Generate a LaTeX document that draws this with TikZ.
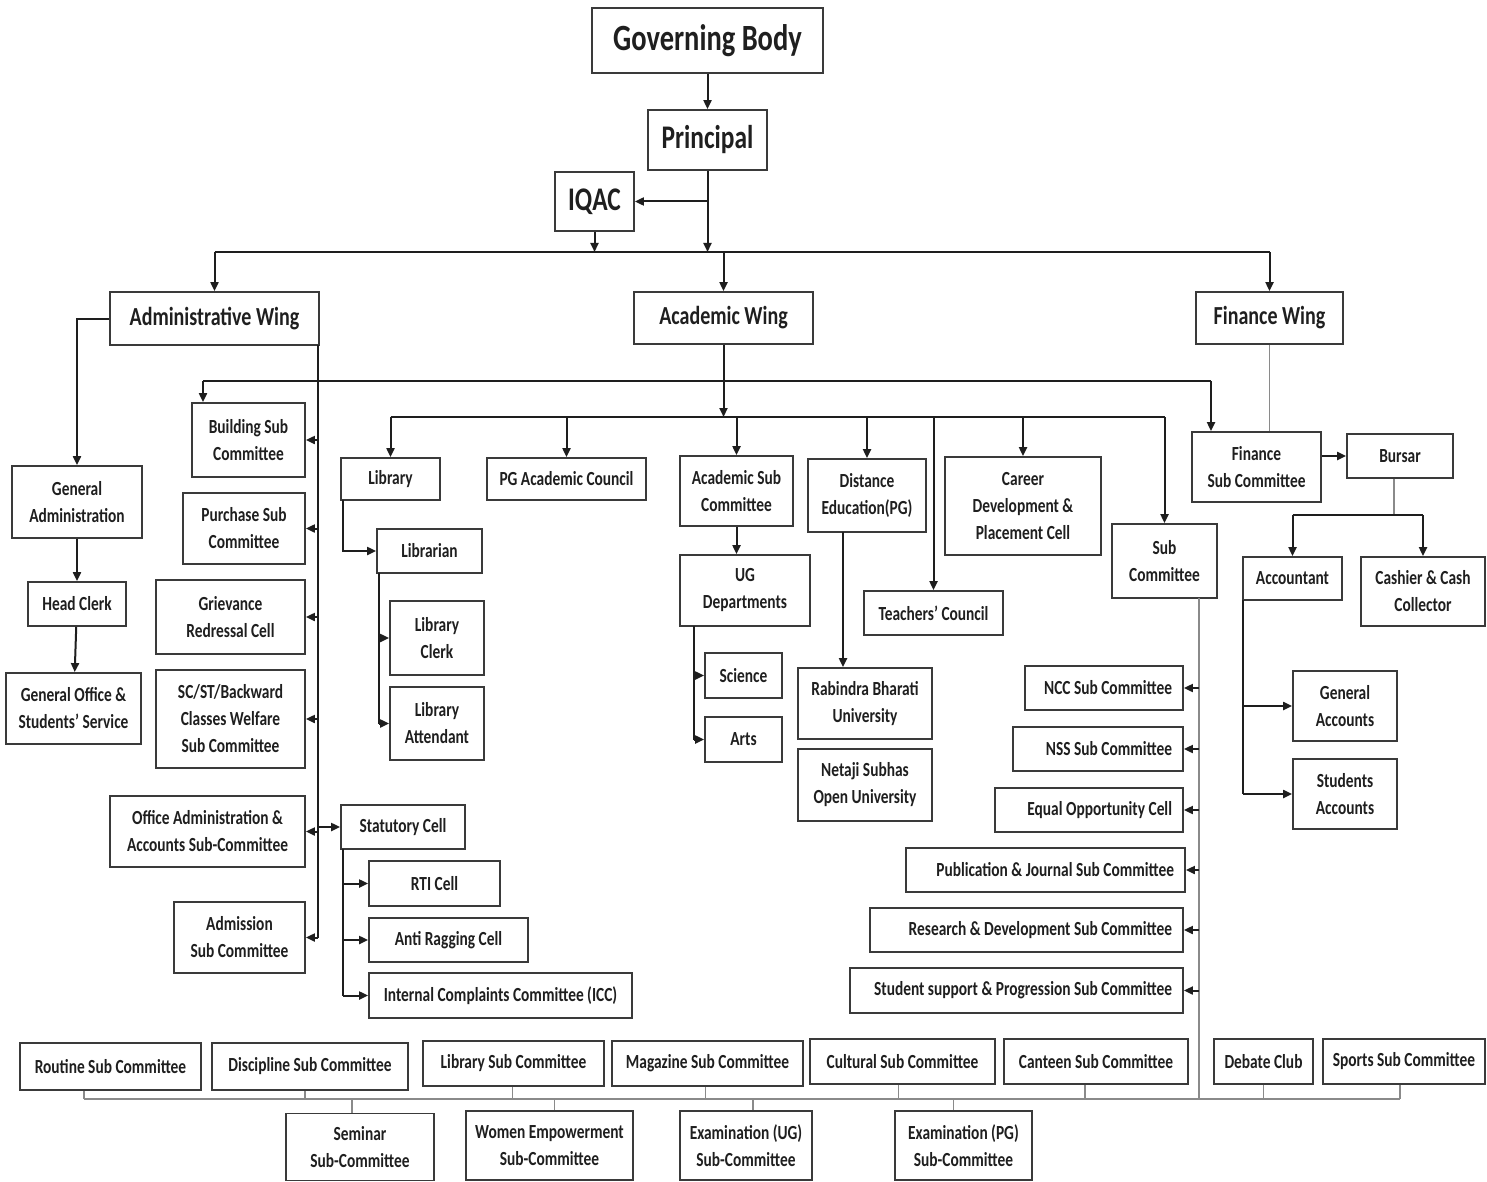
\documentclass[tikz,border=0pt]{standalone}
\usepackage{fontspec}
\setmainfont{Carlito}[FakeStretch=0.77]
\usetikzlibrary{arrows.meta}
\definecolor{boxc}{HTML}{3A3A3A}
\definecolor{linec}{HTML}{1E1E1E}
\definecolor{thinc}{HTML}{8A8A8A}
\newcommand\rtext[2]{\makebox[#1pt][r]{#2}}
\begin{document}
\begin{tikzpicture}[x=1pt,y=-1pt,
  box/.style={draw=boxc, line width=1.8pt, fill=white, inner sep=0pt, align=center,
    font=\bfseries\fontsize{20}{27}\selectfont, text=black!88},
  rbox/.style={box, inner xsep=11pt},
  head/.style={box, font=\bfseries\fontsize{#1}{#1}\selectfont},
  ln/.style={draw=linec, line width=2pt},
  arr/.style={ln, -{Triangle[length=9pt,width=8pt]}},
  thinln/.style={draw=thinc, line width=1.1pt},
]
\useasboundingbox (0,0) rectangle (1487,1182);
\fill[white] (0,0) rectangle (1487,1182);

% ---------- top ----------
\node[head=37, minimum width=231, minimum height=65] (gb) at (707.5,40.5) {Governing Body};
\node[head=33, minimum width=119, minimum height=60] (pr) at (707.5,140) {Principal};
\node[head=33, minimum width=79, minimum height=59] (iqac) at (594.5,201.5) {IQAC};
\node[head=26, minimum width=209, minimum height=53] (adm) at (214.5,318.5) {Administrative Wing};
\node[head=26, minimum width=179, minimum height=52] (aca) at (723.5,318) {Academic Wing};
\node[head=26, minimum width=147, minimum height=52] (fin) at (1269.5,318) {Finance Wing};

% ---------- administrative ----------
\node[box, minimum width=130, minimum height=72] (ga) at (77,502) {General\\Administration};
\node[box, minimum width=98, minimum height=44] (hc) at (77,604) {Head Clerk};
\node[box, minimum width=135, minimum height=71] (go) at (73.5,708.5) {General Office \&\\Students’ Service};
\node[box, minimum width=113, minimum height=74] (bld) at (248.5,440) {Building Sub\\Committee};
\node[box, minimum width=122, minimum height=71] (pur) at (244,528.5) {Purchase Sub\\Committee};
\node[box, minimum width=149, minimum height=74] (grv) at (230.5,617) {Grievance\\Redressal Cell};
\node[box, minimum width=149, minimum height=98] (sc) at (230.5,719) {SC/ST/Backward\\Classes Welfare\\Sub Committee};
\node[box, minimum width=195, minimum height=71] (oa) at (207.5,831.5) {Office Administration \&\\Accounts Sub-Committee};
\node[box, minimum width=131, minimum height=71] (adms) at (239.5,937.5) {Admission\\Sub Committee};
\node[box, minimum width=124, minimum height=44] (stat) at (403,827) {Statutory Cell};
\node[box, minimum width=131, minimum height=45] (rti) at (434.5,883.5) {RTI Cell};
\node[box, minimum width=159, minimum height=44] (anti) at (448.5,940) {Anti Ragging Cell};
\node[box, minimum width=263, minimum height=45] (icc) at (500.5,995.5) {Internal Complaints Committee (ICC)};

% ---------- academic ----------
\node[box, minimum width=99, minimum height=42] (lib) at (390.5,479) {Library};
\node[box, minimum width=159, minimum height=42] (pgac) at (566.5,479) {PG Academic Council};
\node[box, minimum width=113, minimum height=70] (asc) at (736.5,491) {Academic Sub\\Committee};
\node[box, minimum width=118, minimum height=73] (de) at (867,495.5) {Distance\\Education(PG)};
\node[box, minimum width=156, minimum height=98] (cdp) at (1023,506) {Career\\Development \&\\Placement Cell};
\node[box, minimum width=139, minimum height=44] (tc) at (933.5,613) {Teachers’ Council};
\node[box, minimum width=105, minimum height=74] (subc) at (1164.5,561) {Sub\\Committee};
\node[box, minimum width=105, minimum height=44] (lbn) at (429.5,551) {Librarian};
\node[box, minimum width=94, minimum height=74] (lclk) at (437,638) {Library\\Clerk};
\node[box, minimum width=94, minimum height=73] (latt) at (437,723.5) {Library\\Attendant};
\node[box, minimum width=130, minimum height=71] (ug) at (745,590.5) {UG\\Departments};
\node[box, minimum width=77, minimum height=45] (sci) at (743.5,675.5) {Science};
\node[box, minimum width=77, minimum height=45] (arts) at (743.5,739.5) {Arts};
\node[box, minimum width=134, minimum height=71] (rbu) at (865,703.5) {Rabindra Bharati\\University};
\node[box, minimum width=134, minimum height=72] (nsou) at (865,785) {Netaji Subhas\\Open University};
\node[rbox, minimum height=44] (ncc) at (1104,688) {\rtext{136}{NCC Sub Committee}};
\node[rbox, minimum height=44] (nss) at (1098,749) {\rtext{148}{NSS Sub Committee}};
\node[rbox, minimum height=44] (eoc) at (1089,810) {\rtext{166}{Equal Opportunity Cell}};
\node[rbox, minimum height=44] (pub) at (1045.5,870) {\rtext{257}{Publication \& Journal Sub Committee}};
\node[rbox, minimum height=44] (rnd) at (1026.5,930) {\rtext{291}{Research \& Development Sub Committee}};
\node[rbox, minimum height=45] (ssp) at (1016.5,990.5) {\rtext{311}{Student support \& Progression Sub Committee}};

% ---------- finance ----------
\node[box, minimum width=129, minimum height=70] (fsc) at (1256.5,467) {Finance\\Sub Committee};
\node[box, minimum width=106, minimum height=44] (bur) at (1400,456) {Bursar};
\node[box, minimum width=99, minimum height=43] (acc) at (1292.5,578.5) {Accountant};
\node[box, minimum width=124, minimum height=69] (cas) at (1423,591.5) {Cashier \& Cash\\Collector};
\node[box, minimum width=104, minimum height=70] (gacc) at (1345,706) {General\\Accounts};
\node[box, minimum width=104, minimum height=70] (sacc) at (1345,794) {Students\\Accounts};

% ---------- bottom rows ----------
\node[box, minimum width=181, minimum height=47] (rt) at (110.5,1066.5) {Routine Sub Committee};
\node[box, minimum width=196, minimum height=47] (dis) at (310,1066.5) {Discipline Sub Committee};
\node[box, minimum width=181, minimum height=45] (lsc) at (513.5,1063.5) {Library Sub Committee};
\node[box, minimum width=191, minimum height=45] (mag) at (707.5,1063.5) {Magazine Sub Committee};
\node[box, minimum width=185, minimum height=45] (cul) at (902.5,1061.5) {Cultural Sub Committee};
\node[box, minimum width=184, minimum height=45] (can) at (1096,1061.5) {Canteen Sub Committee};
\node[box, minimum width=99, minimum height=45] (deb) at (1263.5,1061.5) {Debate Club};
\node[box, minimum width=162, minimum height=45] (spo) at (1404,1061.5) {Sports Sub Committee};
\node[box, minimum width=148, minimum height=67] (sem) at (360,1147) {Seminar\\Sub-Committee};
\node[box, minimum width=167, minimum height=69] (wem) at (549.5,1145.5) {Women Empowerment\\Sub-Committee};
\node[box, minimum width=132, minimum height=69] (exu) at (746,1145.5) {Examination (UG)\\Sub-Committee};
\node[box, minimum width=137, minimum height=69] (exp) at (963.5,1145.5) {Examination (PG)\\Sub-Committee};

% ---------- connectors: top ----------
\coordinate (tb) at (707.5,252);
\draw[arr] (gb) -- (pr);
\draw[arr] (pr.south) -- (tb);
\draw[arr] (pr.south |- iqac.east) -- (iqac.east);
\draw[arr] (iqac.south) -- (iqac.south |- tb);
\draw[ln] (adm.north |- tb) -- (fin.north |- tb);
\foreach \n in {adm,aca,fin} \draw[arr] (\n.north |- tb) -- (\n.north);

% ---------- connectors: administrative ----------
\draw[arr] (adm.west) -| (ga.north);
\draw[arr] (ga) -- (hc);
\draw[arr] (hc) -- (go);
\coordinate (asT) at (318,345);
\coordinate (asB) at (318,938);
\draw[ln] (asT) -- (asB);
\foreach \n in {bld,pur,grv,sc,oa,adms} \draw[arr] (asT |- \n.east) -- (\n.east);
\draw[arr] (asT |- stat.west) -- (stat.west);
\coordinate (stT) at (343,849);
\draw[ln] (stT) -- (stT |- icc.west);
\foreach \n in {rti,anti,icc} \draw[arr] (stT |- \n.west) -- (\n.west);

% ---------- connectors: academic ----------
\coordinate (b2L) at (203,381);
\coordinate (b2R) at (1211,381);
\draw[ln] (b2L) -- (b2R);
\draw[arr] (b2L) -- (b2L |- bld.north);
\draw[arr] (b2R) -- (b2R |- fsc.north);
\coordinate (b3) at (724,417);
\draw[arr] (aca.south) -- (aca.south |- b3);
\draw[ln] (lib.north |- b3) -- (subc.north |- b3);
\foreach \n in {lib,pgac,asc,de,tc,cdp,subc} \draw[arr] (\n.north |- b3) -- (\n.north);
\coordinate (lbsp) at (343,500);
\draw[arr] (lbsp) |- (lbn.west);
\coordinate (lnsp) at (379,573);
\draw[ln] (lnsp) -- (lnsp |- latt.west);
\foreach \n in {lclk,latt} \draw[arr] (lnsp |- \n.west) -- (\n.west);
\draw[arr] (asc.south) -- (asc.south |- ug.north);
\coordinate (ugsp) at (694,626);
\draw[ln] (ugsp) -- (ugsp |- arts.west);
\foreach \n in {sci,arts} \draw[arr] (ugsp |- \n.west) -- (\n.west);
\coordinate (desp) at (843,532);
\draw[arr] (desp) -- (desp |- rbu.north);
\coordinate (scsp) at (1199,598);
\coordinate (bbL) at (84,1099);
\coordinate (bbR) at (1400,1099);
\draw[thinln] (scsp) -- (scsp |- bbL);
\foreach \n in {ncc,nss,eoc,pub,rnd,ssp} \draw[arr] (scsp |- \n.east) -- (\n.east);

% ---------- connectors: finance ----------
\draw[thinln] (fin.south) -- (fin.south |- fsc.north);
\draw[arr] (fsc.east |- bur.west) -- (bur.west);
\coordinate (bub) at (1394,515);
\draw[thinln] (bub |- bur.south) -- (bub);
\draw[ln] (acc.north |- bub) -- (cas.north |- bub);
\foreach \n in {acc,cas} \draw[arr] (\n.north |- bub) -- (\n.north);
\coordinate (acsp) at (1243,600);
\draw[ln] (acsp) -- (acsp |- sacc.west);
\foreach \n in {gacc,sacc} \draw[arr] (acsp |- \n.west) -- (\n.west);

% ---------- connectors: bottom bus ----------
\draw[thinln] (bbL) -- (bbR);
\draw[thinln] (bbL |- rt.south) -- (bbL);
\draw[thinln] (bbR |- spo.south) -- (bbR);
\foreach \n/\dx in {dis/-5, lsc/-1, mag/-2, cul/-4, can/-11, deb/0} {
  \path ([xshift=\dx]\n.south) coordinate (t\n);
  \draw[thinln] (t\n) -- (t\n |- bbL);
}
\foreach \n/\dx in {sem/-8, wem/5, exu/7, exp/-10} {
  \path ([xshift=\dx]\n.north) coordinate (t\n);
  \draw[thinln] (t\n |- bbL) -- (t\n);
}
\end{tikzpicture}
\end{document}
